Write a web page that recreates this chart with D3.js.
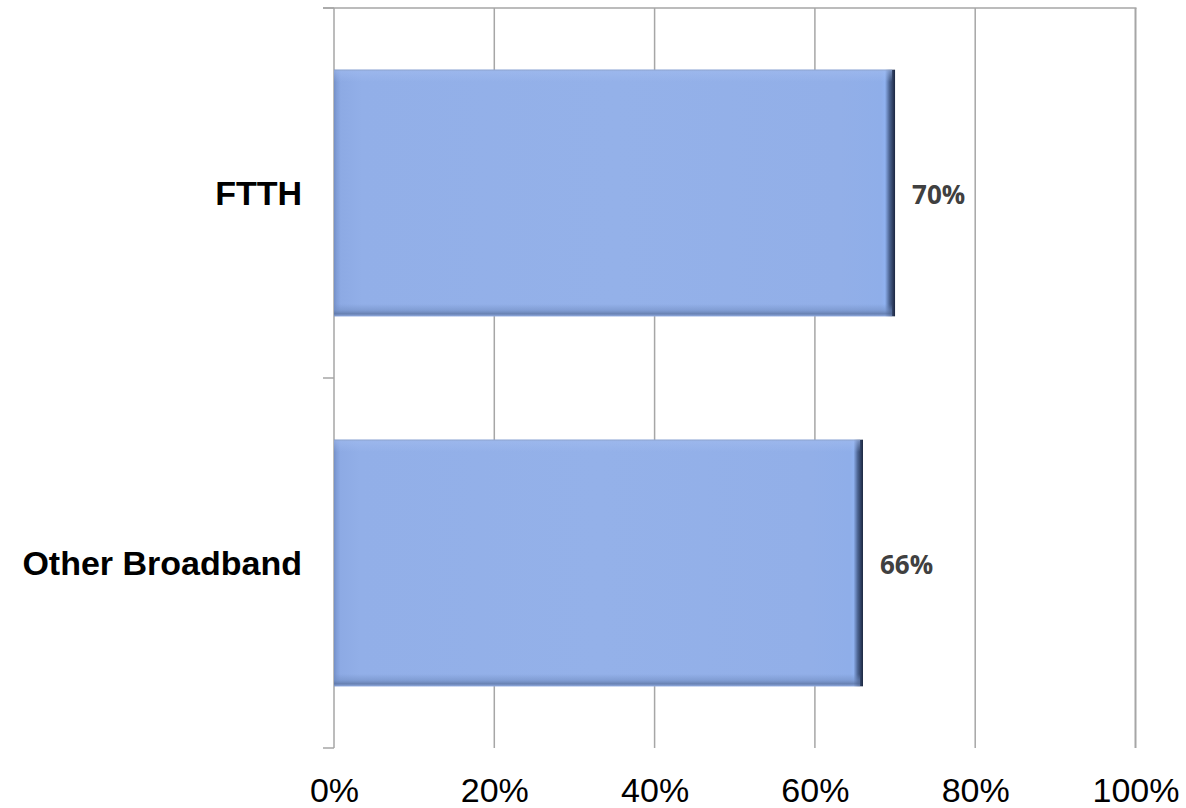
<!DOCTYPE html>
<html>
<head>
<meta charset="utf-8">
<script src="https://cdn.jsdelivr.net/npm/d3@7"></script>
<style>
  html, body { margin: 0; padding: 0; background: #ffffff; }
  svg { display: block; }
</style>
</head>
<body>
<svg id="chart" width="1186" height="808"></svg>
<script>
// Share of households, by connection type
const categories = ["FTTH", "Other Broadband"];
const values = [0.70, 0.66];
const valueLabels = ["70%", "66%"];
const tickValues = [0, 0.2, 0.4, 0.6, 0.8, 1.0];
const tickLabels = ["0%", "20%", "40%", "60%", "80%", "100%"];

const svg = d3.select("#chart");
const plot = { left: 334, right: 1135.5, top: 8, bottom: 748 };

const x = d3.scaleLinear().domain([0, 1]).range([plot.left, plot.right]);
const y = d3.scaleBand()
  .domain(categories)
  .range([plot.top, plot.bottom])
  .paddingInner(1 / 3)
  .paddingOuter(1 / 6);

const gridColor = "#a6a6a6";

// gradients for the bevelled bar look
const defs = svg.append("defs");
const hGrad = defs.append("linearGradient").attr("id", "barH")
  .attr("x1", "0").attr("x2", "1").attr("y1", "0").attr("y2", "0");
[[0, "#7590c6"], [0.005, "#819ed8"], [0.012, "#8daae4"], [0.05, "#92afe8"],
 [0.5, "#94b1e9"], [0.9, "#92afe8"], [0.975, "#8faee9"], [0.982, "#90b2f0"],
 [0.99, "#4d6593"], [1, "#1b2640"]]
  .forEach(([o, c]) => hGrad.append("stop").attr("offset", o).attr("stop-color", c));

const vGrad = defs.append("linearGradient").attr("id", "barV")
  .attr("x1", "0").attr("x2", "0").attr("y1", "0").attr("y2", "1");
[[0, "#8a9fc6", 0.9], [0.008, "#a3bdf0", 0.5], [0.05, "#a3bdf0", 0.0],
 [0.95, "#6f8bc0", 0.0], [0.975, "#6f8bc0", 0.5], [0.99, "#5a72a0", 0.75], [1, "#8ea6d8", 0.6]]
  .forEach(([o, c, a]) => vGrad.append("stop").attr("offset", o)
    .attr("stop-color", c).attr("stop-opacity", a));

// vertical gridlines
svg.append("g").selectAll("line").data(tickValues).join("line")
  .attr("x1", d => x(d)).attr("x2", d => x(d))
  .attr("y1", plot.top).attr("y2", plot.bottom)
  .attr("stroke", gridColor).attr("stroke-width", d => d === 1 ? 2 : 1.5);

// top border
svg.append("line")
  .attr("x1", plot.left - 11).attr("x2", plot.right + 1)
  .attr("y1", plot.top).attr("y2", plot.top)
  .attr("stroke", gridColor).attr("stroke-width", 1.5);

// category axis ticks (band boundaries)
const boundaries = [plot.top, (plot.top + plot.bottom) / 2, plot.bottom];
svg.append("g").selectAll("line").data(boundaries).join("line")
  .attr("x1", plot.left - 11).attr("x2", plot.left)
  .attr("y1", d => d).attr("y2", d => d)
  .attr("stroke", gridColor).attr("stroke-width", 1.5);

// bars
const bars = svg.append("g").selectAll("g").data(categories).join("g");
bars.append("rect")
  .attr("x", x(0)).attr("y", d => y(d))
  .attr("width", (d, i) => x(values[i]) - x(0))
  .attr("height", y.bandwidth())
  .attr("fill", "url(#barH)");
bars.append("rect")
  .attr("x", x(0)).attr("y", d => y(d))
  .attr("width", (d, i) => x(values[i]) - x(0) - 3)
  .attr("height", y.bandwidth())
  .attr("fill", "url(#barV)");

// value labels
svg.append("g").selectAll("text").data(categories).join("text")
  .attr("x", (d, i) => x(values[i]) + 17)
  .attr("y", d => y(d) + y.bandwidth() / 2 + 11)
  .attr("font-family", "'Open Sans', sans-serif")
  .attr("font-weight", "bold")
  .attr("font-size", 26)
  .attr("fill", "#404040")
  .text((d, i) => valueLabels[i]);

// category labels
svg.append("g").selectAll("text").data(categories).join("text")
  .attr("x", 302)
  .attr("y", d => y(d) + y.bandwidth() / 2 + 12)
  .attr("text-anchor", "end")
  .attr("font-family", "'Liberation Sans', Arial, sans-serif")
  .attr("font-weight", "bold")
  .attr("font-size", 34)
  .attr("fill", "#000000")
  .text(d => d);

// x tick labels
const xAxis = d3.axisBottom(x).tickValues(tickValues)
  .tickFormat((d, i) => tickLabels[i]).tickSize(0).tickPadding(0);
const gx = svg.append("g").attr("transform", `translate(0, ${plot.bottom})`).call(xAxis);
gx.select(".domain").remove();
gx.selectAll("text")
  .attr("dy", null)
  .attr("y", 54)
  .attr("font-family", "'Liberation Sans', Arial, sans-serif")
  .attr("font-size", 34)
  .attr("fill", "#000000");
</script>
</body>
</html>
